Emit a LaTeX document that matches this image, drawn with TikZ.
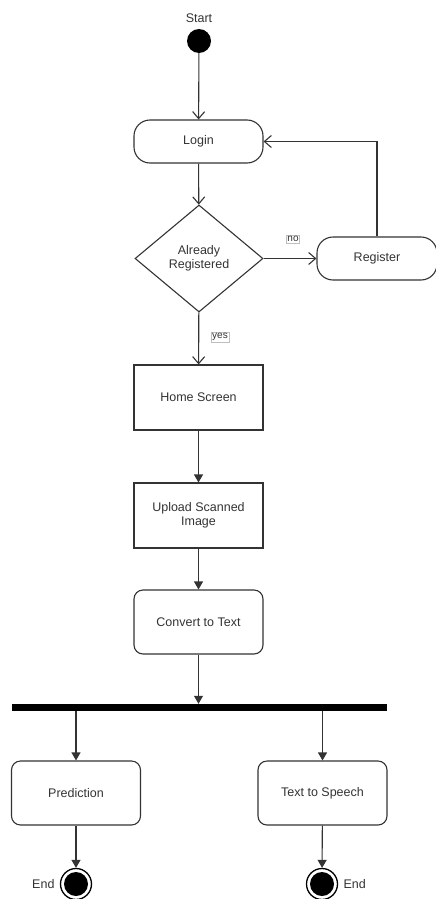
\documentclass[tikz,border=0pt]{standalone}
\usepackage{fontspec}
\setmainfont{Liberation Sans}
\usetikzlibrary{arrows.meta,shapes.geometric}
\definecolor{ink}{HTML}{333333}
\begin{document}
\begin{tikzpicture}[x=1pt,y=-1pt,
  every node/.style={text=ink, font=\fontsize{12.5}{14.5}\selectfont},
  pill/.style={draw=ink, line width=1.1pt, rounded corners=16pt, minimum width=129pt, minimum height=43pt, inner sep=0pt},
  roundbox/.style={draw=ink, line width=1.1pt, rounded corners=9pt, minimum width=129pt, minimum height=64pt, inner sep=0pt, align=center},
  sqbox/.style={draw=ink, line width=1.1pt, minimum width=129pt, minimum height=65pt, inner sep=0pt, align=center},
  decision/.style={draw=ink, line width=1.1pt, diamond, minimum width=128pt, minimum height=107pt, inner sep=0pt, align=center},
  startdot/.style={circle, fill=black, minimum size=24pt, inner sep=0pt},
  tag/.style={draw=black!25, fill=white, inner sep=1pt, font=\fontsize{10}{12}\selectfont},
  openflow/.style={draw=ink, line width=1.1pt, -{Straight Barb[length=7pt,width=12pt]}},
  flow/.style={draw=ink, line width=1.1pt, -{Triangle[length=8pt,width=9pt]}}
]
\useasboundingbox (0,0) rectangle (436,899);

% initial node and the login loop
\node (startlbl) at (199,18) {Start};
\node[startdot] (start) at (199,41) {};
\node[pill] (login) at (198.5,141.5) {Login};
\node[decision] (reg?) at (199,258.5) {Already\\Registered};
\node[pill, minimum width=120pt] (register) at (377,258.5) {Register};
\coordinate (loopcorner) at (register.north |- login.east);

\draw[openflow] (start) -- (login);
\draw[openflow] (login) -- (reg?);
\draw[openflow] (reg?) -- (register);
\draw[openflow] (register.north) -- (loopcorner) -- (login.east);
\node[tag] (nolbl) at (293,239) {no};

% main sequence
\node[sqbox] (home) at (198.5,397.5) {Home Screen};
\node[sqbox] (upload) at (198.5,515.5) {Upload Scanned\\Image};
\node[roundbox] (convert) at (198.5,622) {Convert to Text};

\draw[openflow] (reg?) -- (home);
\node[tag] (yeslbl) at (220,337) {yes};
\draw[flow] (home) -- (upload);
\draw[flow] (upload) -- (convert);

% fork bar
\node[fill=black, minimum width=375pt, minimum height=7pt, inner sep=0pt] (fork) at (199.5,707.5) {};
\draw[flow] (convert) -- (fork.north -| convert.south);

% parallel branches
\node[roundbox] (predict) at (76,793) {Prediction};
\node[roundbox] (tts) at (322.5,793) {Text to Speech};
\draw[flow] (fork.south -| predict.north) -- (predict);
\draw[flow] (fork.south -| tts.north) -- (tts);

% final nodes
\node[circle, draw=black, line width=1.3pt, minimum size=31pt, inner sep=0pt] (endL) at (76,884) {};
\fill[black] (endL.center) circle (12pt);
\node[circle, draw=black, line width=1.3pt, minimum size=31pt, inner sep=0pt] (endR) at (322,884) {};
\fill[black] (endR.center) circle (12pt);
\node[anchor=east] (endLlbl) at (58,884) {End};
\node[anchor=west] (endRlbl) at (340,884) {End};
\draw[flow] (predict) -- (endL);
\draw[flow] (tts) -- (endR);
\end{tikzpicture}
\end{document}
